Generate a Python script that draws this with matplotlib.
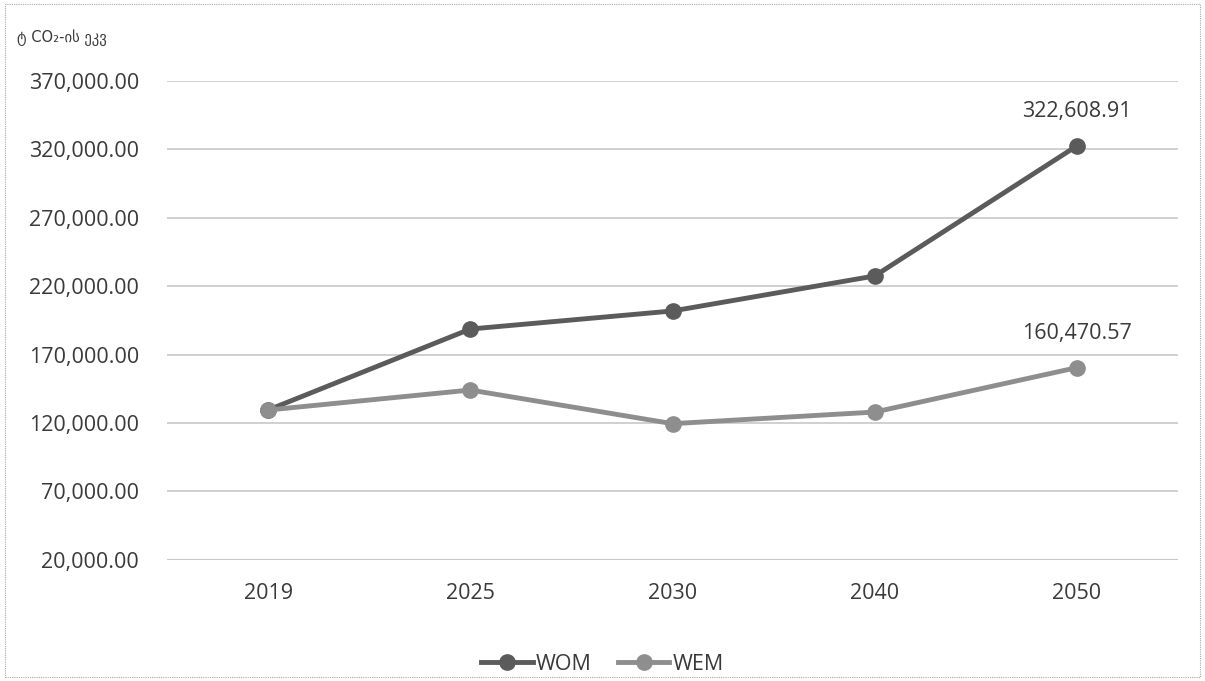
import matplotlib
matplotlib.use("Agg")
import matplotlib.pyplot as plt
from matplotlib.patches import Rectangle
from matplotlib.ticker import FuncFormatter

years = ["2019", "2025", "2030", "2040", "2050"]
wom = [129500, 188700, 201900, 227500, 322608.91]
wem = [129500, 144100, 119500, 128000, 160470.57]
yticks = [20000, 70000, 120000, 170000, 220000, 270000, 320000, 370000]

plt.rcParams['font.family'] = ['Open Sans', 'DejaVu Sans']

fig = plt.figure(figsize=(12.05, 6.81), dpi=100)
ax = fig.add_axes([0.1386, 0.178, 0.839, 0.703])

x = range(len(years))
ax.plot(x, wom, color='#5b5b5b', lw=3.5, marker='o', ms=11, label='WOM', zorder=3)
ax.plot(x, wem, color='#8e8e8e', lw=3.5, marker='o', ms=11, label='WEM', zorder=3)

ax.annotate(f"{wom[-1]:,.2f}", (4, wom[-1]), xytext=(0, 17), textcoords='offset points',
            ha='center', va='bottom', fontsize=15.5, color='#3a3a3a')
ax.annotate(f"{wem[-1]:,.2f}", (4, wem[-1]), xytext=(0, 17), textcoords='offset points',
            ha='center', va='bottom', fontsize=15.5, color='#3a3a3a')

ax.set_xlim(-0.5, 4.5)
ax.set_ylim(20000, 370000)
ax.set_xticks(list(x))
ax.set_xticklabels(years)
ax.set_yticks(yticks)
ax.yaxis.set_major_formatter(FuncFormatter(lambda v, p: f"{v:,.2f}"))
ax.tick_params(length=0, labelsize=15.5, labelcolor='#3a3a3a')
ax.tick_params(axis='x', pad=17)
ax.tick_params(axis='y', pad=20)
ax.grid(axis='y', color='#c8c8c8', lw=1.2)
for s in ax.spines.values():
    s.set_visible(False)
ax.axhline(20000, color='#c8c8c8', lw=1.5)

# unit label, top left
fig.text(0.014, 0.938, "ტ CO₂-ის ეკვ", fontsize=10.5, color='#3a3a3a',
         family=['DejaVu Sans'])

leg = fig.legend(loc='lower center', bbox_to_anchor=(0.5, -0.019), ncol=2, frameon=False,
                 fontsize=15.5, handlelength=2.4, columnspacing=1.2, handletextpad=0.15)
for t in leg.get_texts():
    t.set_color('#3a3a3a')

fig.patches.append(Rectangle((0.004, 0.006), 0.992, 0.988, transform=fig.transFigure,
                             fill=False, ec='#aaaaaa', lw=0.8, ls=(0, (1, 1))))

fig.savefig("out.png", dpi=100, facecolor='white')
